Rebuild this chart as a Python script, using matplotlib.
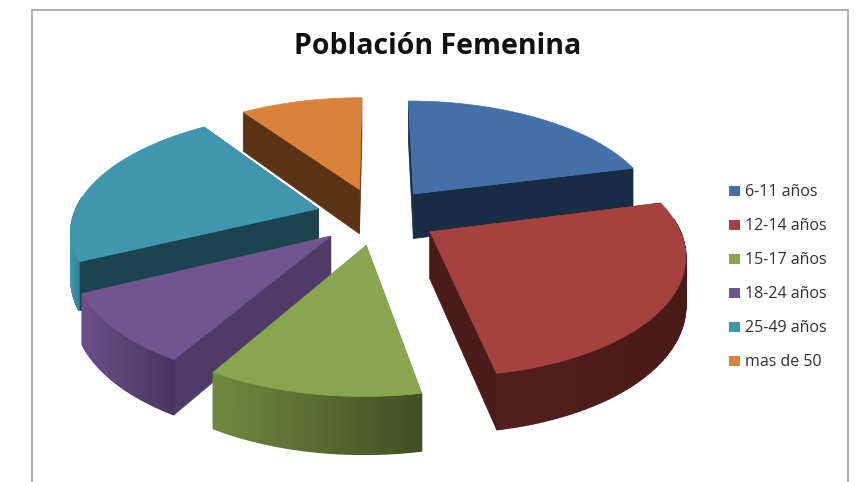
import numpy as np
import matplotlib
matplotlib.use("Agg")
import matplotlib.pyplot as plt
from matplotlib.patches import Polygon, Rectangle

categories = ['6-11 años', '12-14 años', '15-17 años', '18-24 años', '25-49 años', 'mas de 50']
values = [21.0, 26.0, 11.4, 9.4, 22.6, 9.6]
top_colors = ['#4470a8', '#a5423f', '#87a64f', '#70558f', '#3f96ae', '#d98239']
side_colors = ['#182c46', '#4a1b19', '#5d7535', '#4f3b66', '#1c4350', '#5a3415']
rim_left = ['#182c46', '#531f1e', '#6f8a3f', '#6a5088', '#3f96ae', '#5a3415']
rim_right = ['#182c46', '#481a18', '#404f24', '#4a3560', '#2f7a90', '#5a3415']
title = 'Población Femenina'

# projection of the pie plane onto the picture
cx, cy = 377, 216
sx_scale, sy_scale = 245, 115
persp = 0.165
explode = 0.25
depth = 46
# slices painted in the same order as the reference, far ones first
order = [5, 0, 4, 3, 1, 2]


def project(u, v, low=False):
    w = 1 + persp * v
    x = cx + sx_scale * u / w
    y = cy - sy_scale * v / w
    if low:
        y = y + depth / w
    return x, y


fig = plt.figure(figsize=(8.57, 4.82), dpi=100)
ax = fig.add_axes([0, 0, 1, 1])
ax.set_xlim(0, 857)
ax.set_ylim(482, 0)
ax.axis('off')

ax.add_patch(Rectangle((32, 10), 816, 480, fc='white', ec='#a0a0a0', lw=1.2))

shares = np.array(values) / sum(values) * 2 * np.pi
ends = np.cumsum(shares)
starts = ends - shares
mids = (starts + ends) / 2

for i in order:
    ou, ov = explode * np.sin(mids[i]), explode * np.cos(mids[i])
    th = np.linspace(starts[i], ends[i], 90)
    us = ou + np.sin(th)
    vs = ov + np.cos(th)
    ax_, ay_ = project(ou, ov)
    bx_, by_ = project(ou, ov, low=True)
    tx, ty = project(us, vs)
    lx, ly = project(us, vs, low=True)

    # radial faces
    for k in (0, -1):
        ax.add_patch(Polygon([(ax_, ay_), (tx[k], ty[k]), (lx[k], ly[k]), (bx_, by_)],
                             fc=side_colors[i], ec=side_colors[i], lw=0.5, zorder=2))
    # rim, only the part facing the viewer, bright to dark going right
    keep = np.where(np.cos(th) < 0.12)[0]
    if len(keep) > 1:
        c0 = np.array(matplotlib.colors.to_rgb(rim_left[i]))
        c1 = np.array(matplotlib.colors.to_rgb(rim_right[i]))
        x0, x1 = tx[keep].min(), tx[keep].max()
        for j in keep[:-1]:
            t = (tx[j] - x0) / (x1 - x0)
            shade = tuple(c0 + (c1 - c0) * t)
            ax.add_patch(Polygon([(tx[j], ty[j]), (tx[j + 1], ty[j + 1]), (lx[j + 1], ly[j + 1]), (lx[j], ly[j])],
                                 fc=shade, ec=shade, lw=1, zorder=2))
    # top
    ax.add_patch(Polygon(np.r_[[(ax_, ay_)], np.c_[tx, ty]], fc=top_colors[i], ec=top_colors[i], lw=0.5, zorder=2))

ax.text(438, 46, title, ha='center', va='center', fontsize=20.5, fontweight='bold',
        family='Open Sans', color='#111111')

for n, name in enumerate(categories):
    y = 191 + n * 34
    ax.add_patch(Rectangle((729.5, y - 5), 10.5, 10, fc=top_colors[n], ec='none'))
    ax.text(745, y + 0.5, name, ha='left', va='center', fontsize=11.5, family='Open Sans', color='#303030')

fig.savefig('out.png', dpi=100)
